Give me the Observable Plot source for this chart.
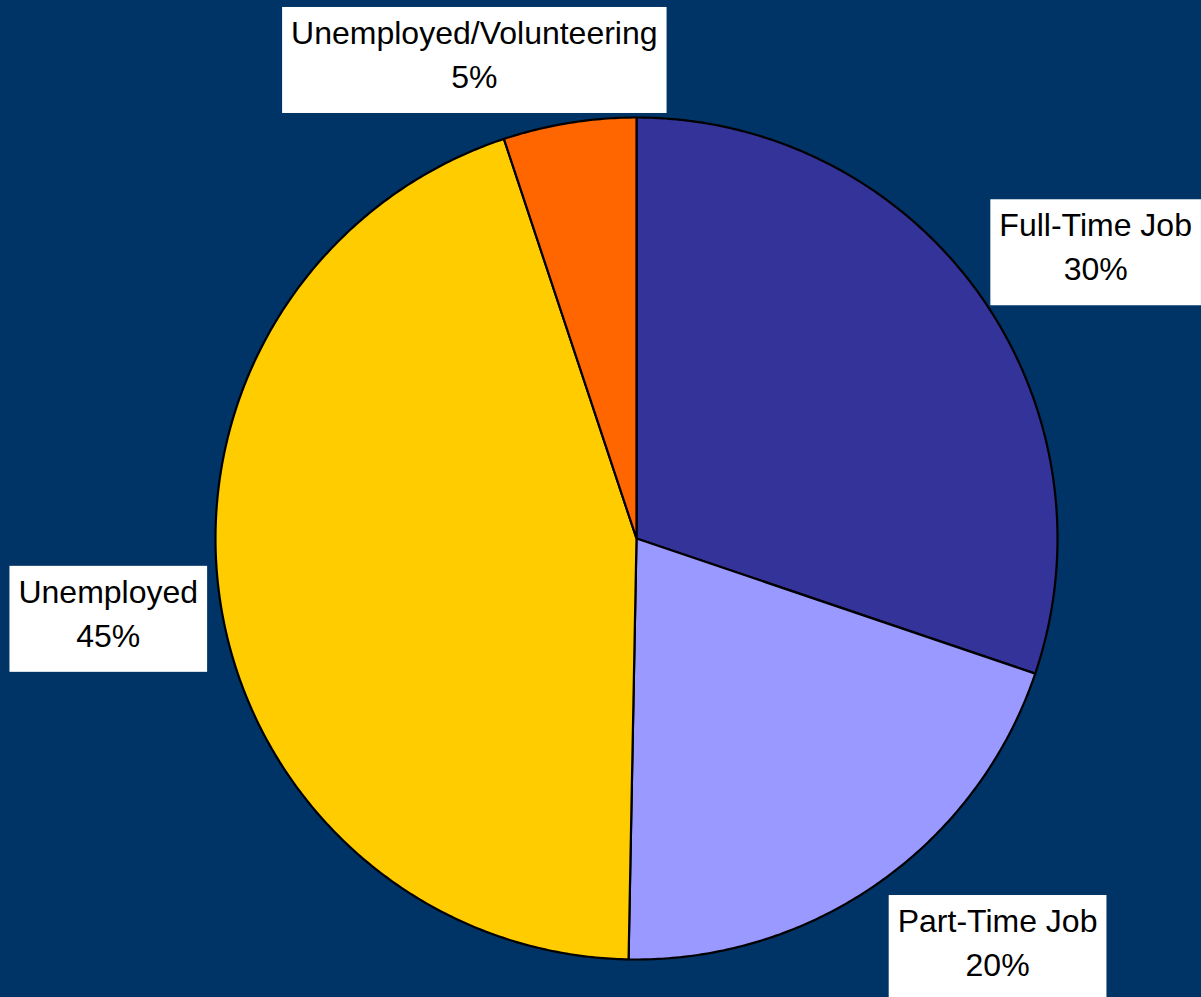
<!DOCTYPE html>
<html><head><meta charset="utf-8">
<script src="https://cdn.jsdelivr.net/npm/d3@7"></script>
<script src="https://cdn.jsdelivr.net/npm/@observablehq/plot@0.6"></script>
<style>html,body{margin:0;padding:0;background:#003366;} #chart{width:1201px;height:997px;overflow:hidden}</style>
</head><body><div id="chart"></div>
<script>
// ---- data ----
const categories = ["Full-Time Job", "Part-Time Job", "Unemployed", "Unemployed/Volunteering"];
const values = [30.2, 20.1, 44.6, 5.1];
// ---- styles ----
const colors = ["#333399", "#9999FF", "#FFCC00", "#FF6600"];

const total = d3.sum(values);
const slices = d3.pie().sort(null).value(d => d.value)(categories.map((name, i) => ({name, value: values[i]})));

// slice outlines as polygon vertices (angle geometry from the pie layout)
const pts = [];
slices.forEach(s => {
  const name = s.data.name;
  pts.push({name, x: 0, y: 0});
  const n = Math.max(2, Math.ceil((s.endAngle - s.startAngle) / (Math.PI / 360)));
  for (let k = 0; k <= n; k++) {
    const a = s.startAngle + (s.endAngle - s.startAngle) * k / n;
    pts.push({name, x: Math.sin(a), y: Math.cos(a)});
  }
});

// label placement nudges (pixels, from slice edge at mid-angle)
const labelNudge = {
  "Full-Time Job": [117, -49],
  "Part-Time Job": [119, 57],
  "Unemployed": [-112, 9],
  "Unemployed/Volunteering": [-95, -71]
};
const mid = d => (d.startAngle + d.endAngle) / 2;

const svg = Plot.plot({
  width: 1201,
  height: 997,
  marginLeft: 215, marginRight: 144, marginTop: 117, marginBottom: 38,
  x: {domain: [-1, 1], axis: null},
  y: {domain: [-1, 1], axis: null},
  color: {domain: categories, range: colors, legend: false},
  style: {background: "#003366"},
  marks: [
    Plot.line(pts, {x: "x", y: "y", z: "name", fill: "name", stroke: "black", strokeWidth: 2.2, strokeLinejoin: "round", curve: "linear-closed"}),
    ...slices.map(s => {
      const [dx, dy] = labelNudge[s.data.name];
      return Plot.text([s], {
        x: d => Math.sin(mid(d)), y: d => Math.cos(mid(d)),
        text: d => `${d.data.name}\n${Math.round(d.data.value / total * 100)}%`,
        dx, dy, fontSize: 32, lineHeight: 1.375, fill: "black",
        textAnchor: "middle", lineAnchor: "middle",
        fontFamily: "Liberation Sans, Arial, sans-serif"
      });
    })
  ]
});
document.getElementById("chart").appendChild(svg);

// white label boxes behind each label
svg.querySelectorAll('g[aria-label="text"] text').forEach(t => {
  const b = t.getBBox();
  const r = document.createElementNS("http://www.w3.org/2000/svg", "rect");
  r.setAttribute("x", b.x - 9);
  r.setAttribute("y", b.y - 8);
  r.setAttribute("width", b.width + 18);
  r.setAttribute("height", b.height + 26);
  r.setAttribute("fill", "white");
  r.setAttribute("stroke", "none");
  const tr = t.getAttribute("transform");
  if (tr) r.setAttribute("transform", tr);
  t.parentNode.insertBefore(r, t);
});
</script>
</body></html>
